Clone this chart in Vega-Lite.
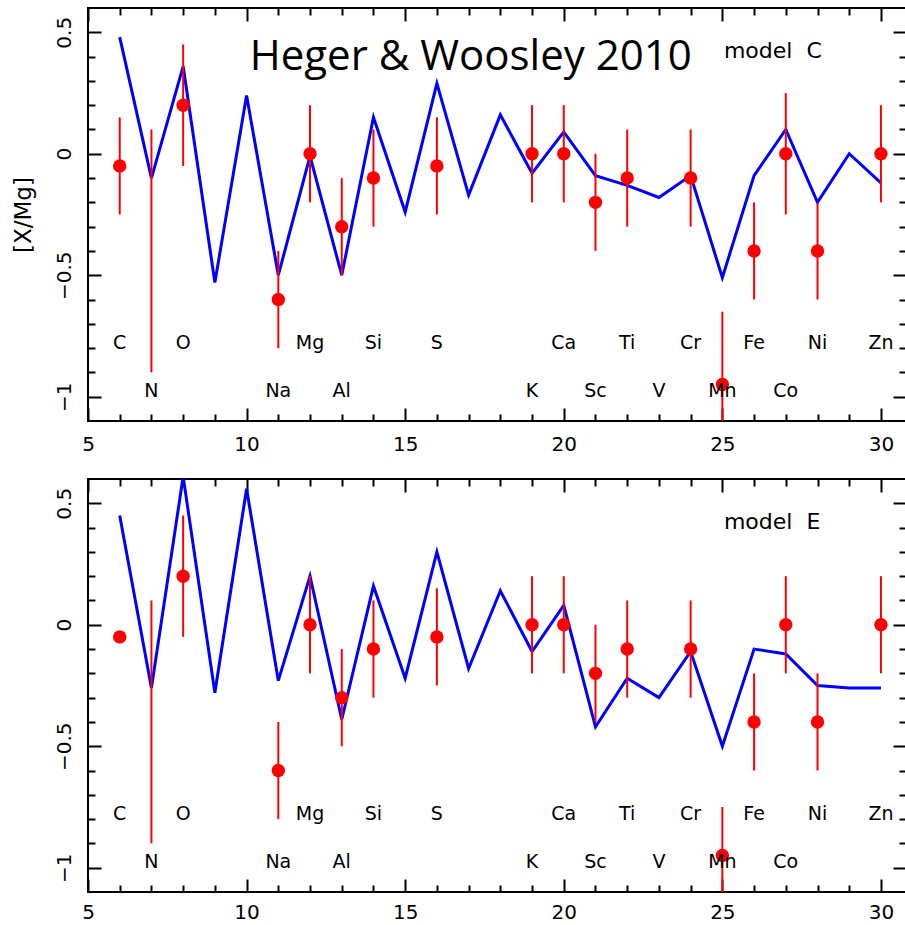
{
  "$schema": "https://vega.github.io/schema/vega-lite/v6.json",
  "padding": {"left": 10, "top": 6, "right": 0, "bottom": 0},
  "background": "white",
  "spacing": 16,
  "config": {
    "view": {"stroke": "black", "strokeWidth": 2},
    "axis": {"grid": false, "domain": false, "tickColor": "black", "tickWidth": 2, "labelFont": "DejaVu Sans", "labelFontSize": 20, "labelColor": "black", "titleFont": "DejaVu Sans", "titleFontSize": 23, "titleFontWeight": "normal", "titleColor": "black", "minExtent": 0},
    "text": {"font": "DejaVu Sans", "color": "black"}
  },
  "datasets": {
    "model": [
      {"panel": "C", "Z": 6, "v": 0.48}, {"panel": "C", "Z": 7, "v": -0.10}, {"panel": "C", "Z": 8, "v": 0.36}, {"panel": "C", "Z": 9, "v": -0.53},
      {"panel": "C", "Z": 10, "v": 0.24}, {"panel": "C", "Z": 11, "v": -0.50}, {"panel": "C", "Z": 12, "v": -0.01}, {"panel": "C", "Z": 13, "v": -0.50},
      {"panel": "C", "Z": 14, "v": 0.15}, {"panel": "C", "Z": 15, "v": -0.24}, {"panel": "C", "Z": 16, "v": 0.29}, {"panel": "C", "Z": 17, "v": -0.17},
      {"panel": "C", "Z": 18, "v": 0.16}, {"panel": "C", "Z": 19, "v": -0.08}, {"panel": "C", "Z": 20, "v": 0.09}, {"panel": "C", "Z": 21, "v": -0.09},
      {"panel": "C", "Z": 22, "v": -0.13}, {"panel": "C", "Z": 23, "v": -0.18}, {"panel": "C", "Z": 24, "v": -0.09}, {"panel": "C", "Z": 25, "v": -0.51},
      {"panel": "C", "Z": 26, "v": -0.09}, {"panel": "C", "Z": 27, "v": 0.10}, {"panel": "C", "Z": 28, "v": -0.20}, {"panel": "C", "Z": 29, "v": 0.0},
      {"panel": "C", "Z": 30, "v": -0.12},
      {"panel": "E", "Z": 6, "v": 0.45}, {"panel": "E", "Z": 7, "v": -0.26}, {"panel": "E", "Z": 8, "v": 0.61}, {"panel": "E", "Z": 9, "v": -0.28},
      {"panel": "E", "Z": 10, "v": 0.56}, {"panel": "E", "Z": 11, "v": -0.23}, {"panel": "E", "Z": 12, "v": 0.20}, {"panel": "E", "Z": 13, "v": -0.39},
      {"panel": "E", "Z": 14, "v": 0.16}, {"panel": "E", "Z": 15, "v": -0.22}, {"panel": "E", "Z": 16, "v": 0.30}, {"panel": "E", "Z": 17, "v": -0.18},
      {"panel": "E", "Z": 18, "v": 0.14}, {"panel": "E", "Z": 19, "v": -0.11}, {"panel": "E", "Z": 20, "v": 0.08}, {"panel": "E", "Z": 21, "v": -0.42},
      {"panel": "E", "Z": 22, "v": -0.22}, {"panel": "E", "Z": 23, "v": -0.30}, {"panel": "E", "Z": 24, "v": -0.11}, {"panel": "E", "Z": 25, "v": -0.50},
      {"panel": "E", "Z": 26, "v": -0.10}, {"panel": "E", "Z": 27, "v": -0.12}, {"panel": "E", "Z": 28, "v": -0.25}, {"panel": "E", "Z": 29, "v": -0.26},
      {"panel": "E", "Z": 30, "v": -0.26}
    ],
    "obs": [
      {"panel": "C", "Z": 6, "v": -0.05, "lo": -0.25, "hi": 0.15},
      {"panel": "C", "Z": 7, "v": null, "lo": -0.9, "hi": 0.1},
      {"panel": "C", "Z": 8, "v": 0.2, "lo": -0.05, "hi": 0.45},
      {"panel": "C", "Z": 11, "v": -0.6, "lo": -0.8, "hi": -0.4},
      {"panel": "C", "Z": 12, "v": 0.0, "lo": -0.2, "hi": 0.2},
      {"panel": "C", "Z": 13, "v": -0.3, "lo": -0.5, "hi": -0.1},
      {"panel": "C", "Z": 14, "v": -0.1, "lo": -0.3, "hi": 0.1},
      {"panel": "C", "Z": 16, "v": -0.05, "lo": -0.25, "hi": 0.15},
      {"panel": "C", "Z": 19, "v": 0.0, "lo": -0.2, "hi": 0.2},
      {"panel": "C", "Z": 20, "v": 0.0, "lo": -0.2, "hi": 0.2},
      {"panel": "C", "Z": 21, "v": -0.2, "lo": -0.4, "hi": 0.0},
      {"panel": "C", "Z": 22, "v": -0.1, "lo": -0.3, "hi": 0.1},
      {"panel": "C", "Z": 24, "v": -0.1, "lo": -0.3, "hi": 0.1},
      {"panel": "C", "Z": 25, "v": -0.95, "lo": -1.25, "hi": -0.65},
      {"panel": "C", "Z": 26, "v": -0.4, "lo": -0.6, "hi": -0.2},
      {"panel": "C", "Z": 27, "v": 0.0, "lo": -0.25, "hi": 0.25},
      {"panel": "C", "Z": 28, "v": -0.4, "lo": -0.6, "hi": -0.2},
      {"panel": "C", "Z": 30, "v": 0.0, "lo": -0.2, "hi": 0.2},
      {"panel": "E", "Z": 6, "v": -0.05, "lo": null, "hi": null},
      {"panel": "E", "Z": 7, "v": null, "lo": -0.9, "hi": 0.1},
      {"panel": "E", "Z": 8, "v": 0.2, "lo": -0.05, "hi": 0.45},
      {"panel": "E", "Z": 11, "v": -0.6, "lo": -0.8, "hi": -0.4},
      {"panel": "E", "Z": 12, "v": 0.0, "lo": -0.2, "hi": 0.2},
      {"panel": "E", "Z": 13, "v": -0.3, "lo": -0.5, "hi": -0.1},
      {"panel": "E", "Z": 14, "v": -0.1, "lo": -0.3, "hi": 0.1},
      {"panel": "E", "Z": 16, "v": -0.05, "lo": -0.25, "hi": 0.15},
      {"panel": "E", "Z": 19, "v": 0.0, "lo": -0.2, "hi": 0.2},
      {"panel": "E", "Z": 20, "v": 0.0, "lo": -0.2, "hi": 0.2},
      {"panel": "E", "Z": 21, "v": -0.2, "lo": -0.4, "hi": 0.0},
      {"panel": "E", "Z": 22, "v": -0.1, "lo": -0.3, "hi": 0.1},
      {"panel": "E", "Z": 24, "v": -0.1, "lo": -0.3, "hi": 0.1},
      {"panel": "E", "Z": 25, "v": -0.95, "lo": -1.25, "hi": -0.75},
      {"panel": "E", "Z": 26, "v": -0.4, "lo": -0.6, "hi": -0.2},
      {"panel": "E", "Z": 27, "v": 0.0, "lo": -0.2, "hi": 0.2},
      {"panel": "E", "Z": 28, "v": -0.4, "lo": -0.6, "hi": -0.2},
      {"panel": "E", "Z": 30, "v": 0.0, "lo": -0.2, "hi": 0.2}
    ],
    "elems": [
      {"el": "C", "Z": 6, "row": 1}, {"el": "N", "Z": 7, "row": 2}, {"el": "O", "Z": 8, "row": 1},
      {"el": "Na", "Z": 11, "row": 2}, {"el": "Mg", "Z": 12, "row": 1}, {"el": "Al", "Z": 13, "row": 2},
      {"el": "Si", "Z": 14, "row": 1}, {"el": "S", "Z": 16, "row": 1}, {"el": "K", "Z": 19, "row": 2},
      {"el": "Ca", "Z": 20, "row": 1}, {"el": "Sc", "Z": 21, "row": 2}, {"el": "Ti", "Z": 22, "row": 1},
      {"el": "V", "Z": 23, "row": 2}, {"el": "Cr", "Z": 24, "row": 1}, {"el": "Mn", "Z": 25, "row": 2},
      {"el": "Fe", "Z": 26, "row": 1}, {"el": "Co", "Z": 27, "row": 2}, {"el": "Ni", "Z": 28, "row": 1},
      {"el": "Zn", "Z": 30, "row": 1}
    ]
  },
  "vconcat": [
    {
      "width": 818, "height": 413,
      "layer": [
        {
          "data": {"name": "model"}, "transform": [{"filter": "datum.panel === 'C'"}],
          "mark": {"type": "line", "color": "#0000ff", "strokeWidth": 3, "clip": true},
          "encoding": {
            "x": {"field": "Z", "type": "quantitative", "scale": {"domain": [5, 30.79], "nice": false, "zero": false},
              "axis": {"orient": "bottom", "title": null, "values": [5,6,7,8,9,10,11,12,13,14,15,16,17,18,19,20,21,22,23,24,25,26,27,28,29,30],
                "tickSize": {"condition": {"test": "datum.value % 5 === 0", "value": -13}, "value": -7},
                "labelExpr": "datum.value % 5 === 0 ? datum.label : ''", "labelPadding": 26, "labelFlush": false, "labelOverlap": false}},
            "y": {"field": "v", "type": "quantitative", "scale": {"domain": [-1.1, 0.6], "nice": false, "zero": false},
              "axis": {"orient": "left", "title": "[X/Mg]", "titlePadding": 13, "format": ".1~f",
                "values": [-1.0,-0.9,-0.8,-0.7,-0.6,-0.5,-0.4,-0.3,-0.2,-0.1,0.0,0.1,0.2,0.3,0.4,0.5],
                "tickSize": {"condition": {"test": "abs(datum.value*2 - round(datum.value*2)) < 0.001", "value": -13}, "value": -7},
                "labelExpr": "abs(datum.value*2 - round(datum.value*2)) < 0.001 ? datum.label : ''",
                "labelAngle": -90, "labelAlign": "center", "labelBaseline": "alphabetic", "labelPadding": 31, "labelOverlap": false, "labelFlush": false}}
          }
        },
        {
          "data": {"name": "obs"}, "transform": [{"filter": "datum.panel === 'C' && datum.lo != null"}],
          "mark": {"type": "rule", "color": "#ff0000", "strokeWidth": 2, "clip": true},
          "encoding": {
            "x": {"field": "Z", "type": "quantitative",
              "axis": {"orient": "top", "title": null, "labels": false, "values": [5,6,7,8,9,10,11,12,13,14,15,16,17,18,19,20,21,22,23,24,25,26,27,28,29,30],
                "tickSize": {"condition": {"test": "datum.value % 5 === 0", "value": -13}, "value": -7}}},
            "y": {"field": "lo", "type": "quantitative",
              "axis": {"orient": "right", "title": null, "labels": false,
                "values": [-1.0,-0.9,-0.8,-0.7,-0.6,-0.5,-0.4,-0.3,-0.2,-0.1,0.0,0.1,0.2,0.3,0.4,0.5],
                "tickSize": {"condition": {"test": "abs(datum.value*2 - round(datum.value*2)) < 0.001", "value": -13}, "value": -7}}},
            "y2": {"field": "hi"}
          }
        },
        {
          "data": {"name": "obs"}, "transform": [{"filter": "datum.panel === 'C' && datum.v != null"}],
          "mark": {"type": "circle", "color": "#ff0000", "opacity": 1, "size": 180, "clip": true},
          "encoding": {
            "x": {"field": "Z", "type": "quantitative", "axis": null},
            "y": {"field": "v", "type": "quantitative", "axis": null}
          }
        },
        {
          "data": {"name": "elems"}, "transform": [{"filter": "datum.row === 1"}],
          "mark": {"type": "text", "fontSize": 19, "baseline": "alphabetic", "align": "center"},
          "encoding": {
            "x": {"field": "Z", "type": "quantitative", "axis": null},
            "y": {"datum": -0.805, "type": "quantitative", "axis": null},
            "text": {"field": "el"}
          }
        },
        {
          "data": {"name": "elems"}, "transform": [{"filter": "datum.row === 2"}],
          "mark": {"type": "text", "fontSize": 19, "baseline": "alphabetic", "align": "center"},
          "encoding": {
            "x": {"field": "Z", "type": "quantitative", "axis": null},
            "y": {"datum": -1.0, "type": "quantitative", "axis": null},
            "text": {"field": "el"}
          }
        },
        {
          "data": {"values": [{}]},
          "mark": {"type": "text", "text": "model\u00a0\u00a0C", "fontSize": 22, "baseline": "alphabetic", "align": "left"},
          "encoding": {
            "x": {"datum": 25.05, "type": "quantitative", "axis": null},
            "y": {"datum": 0.395, "type": "quantitative", "axis": null}
          }
        },
        {
          "data": {"values": [{}]},
          "mark": {"type": "text", "text": "Heger & Woosley 2010", "font": "Open Sans", "fontSize": 42, "baseline": "alphabetic", "align": "left"},
          "encoding": {
            "x": {"datum": 10.1, "type": "quantitative", "axis": null},
            "y": {"datum": 0.345, "type": "quantitative", "axis": null}
          }
        }
      ],
      "resolve": {"axis": {"x": "independent", "y": "independent"}}
    },
    {
      "width": 818, "height": 413,
      "layer": [
        {
          "data": {"name": "model"}, "transform": [{"filter": "datum.panel === 'E'"}],
          "mark": {"type": "line", "color": "#0000ff", "strokeWidth": 3, "clip": true},
          "encoding": {
            "x": {"field": "Z", "type": "quantitative", "scale": {"domain": [5, 30.79], "nice": false, "zero": false},
              "axis": {"orient": "bottom", "title": null, "values": [5,6,7,8,9,10,11,12,13,14,15,16,17,18,19,20,21,22,23,24,25,26,27,28,29,30],
                "tickSize": {"condition": {"test": "datum.value % 5 === 0", "value": -13}, "value": -7},
                "labelExpr": "datum.value % 5 === 0 ? datum.label : ''", "labelPadding": 23, "labelFlush": false, "labelOverlap": false}},
            "y": {"field": "v", "type": "quantitative", "scale": {"domain": [-1.1, 0.6], "nice": false, "zero": false},
              "axis": {"orient": "left", "title": null, "format": ".1~f",
                "values": [-1.0,-0.9,-0.8,-0.7,-0.6,-0.5,-0.4,-0.3,-0.2,-0.1,0.0,0.1,0.2,0.3,0.4,0.5],
                "tickSize": {"condition": {"test": "abs(datum.value*2 - round(datum.value*2)) < 0.001", "value": -13}, "value": -7},
                "labelExpr": "abs(datum.value*2 - round(datum.value*2)) < 0.001 ? datum.label : ''",
                "labelAngle": -90, "labelAlign": "center", "labelBaseline": "alphabetic", "labelPadding": 31, "labelOverlap": false, "labelFlush": false}}
          }
        },
        {
          "data": {"name": "obs"}, "transform": [{"filter": "datum.panel === 'E' && datum.lo != null"}],
          "mark": {"type": "rule", "color": "#ff0000", "strokeWidth": 2, "clip": true},
          "encoding": {
            "x": {"field": "Z", "type": "quantitative",
              "axis": {"orient": "top", "title": null, "labels": false, "values": [5,6,7,8,9,10,11,12,13,14,15,16,17,18,19,20,21,22,23,24,25,26,27,28,29,30],
                "tickSize": {"condition": {"test": "datum.value % 5 === 0", "value": -13}, "value": -7}}},
            "y": {"field": "lo", "type": "quantitative",
              "axis": {"orient": "right", "title": null, "labels": false,
                "values": [-1.0,-0.9,-0.8,-0.7,-0.6,-0.5,-0.4,-0.3,-0.2,-0.1,0.0,0.1,0.2,0.3,0.4,0.5],
                "tickSize": {"condition": {"test": "abs(datum.value*2 - round(datum.value*2)) < 0.001", "value": -13}, "value": -7}}},
            "y2": {"field": "hi"}
          }
        },
        {
          "data": {"name": "obs"}, "transform": [{"filter": "datum.panel === 'E' && datum.v != null"}],
          "mark": {"type": "circle", "color": "#ff0000", "opacity": 1, "size": 180, "clip": true},
          "encoding": {
            "x": {"field": "Z", "type": "quantitative", "axis": null},
            "y": {"field": "v", "type": "quantitative", "axis": null}
          }
        },
        {
          "data": {"name": "elems"}, "transform": [{"filter": "datum.row === 1"}],
          "mark": {"type": "text", "fontSize": 19, "baseline": "alphabetic", "align": "center"},
          "encoding": {
            "x": {"field": "Z", "type": "quantitative", "axis": null},
            "y": {"datum": -0.805, "type": "quantitative", "axis": null},
            "text": {"field": "el"}
          }
        },
        {
          "data": {"name": "elems"}, "transform": [{"filter": "datum.row === 2"}],
          "mark": {"type": "text", "fontSize": 19, "baseline": "alphabetic", "align": "center"},
          "encoding": {
            "x": {"field": "Z", "type": "quantitative", "axis": null},
            "y": {"datum": -1.0, "type": "quantitative", "axis": null},
            "text": {"field": "el"}
          }
        },
        {
          "data": {"values": [{}]},
          "mark": {"type": "text", "text": "model\u00a0\u00a0E", "fontSize": 22, "baseline": "alphabetic", "align": "left"},
          "encoding": {
            "x": {"datum": 25.05, "type": "quantitative", "axis": null},
            "y": {"datum": 0.395, "type": "quantitative", "axis": null}
          }
        }
      ],
      "resolve": {"axis": {"x": "independent", "y": "independent"}}
    }
  ]
}
